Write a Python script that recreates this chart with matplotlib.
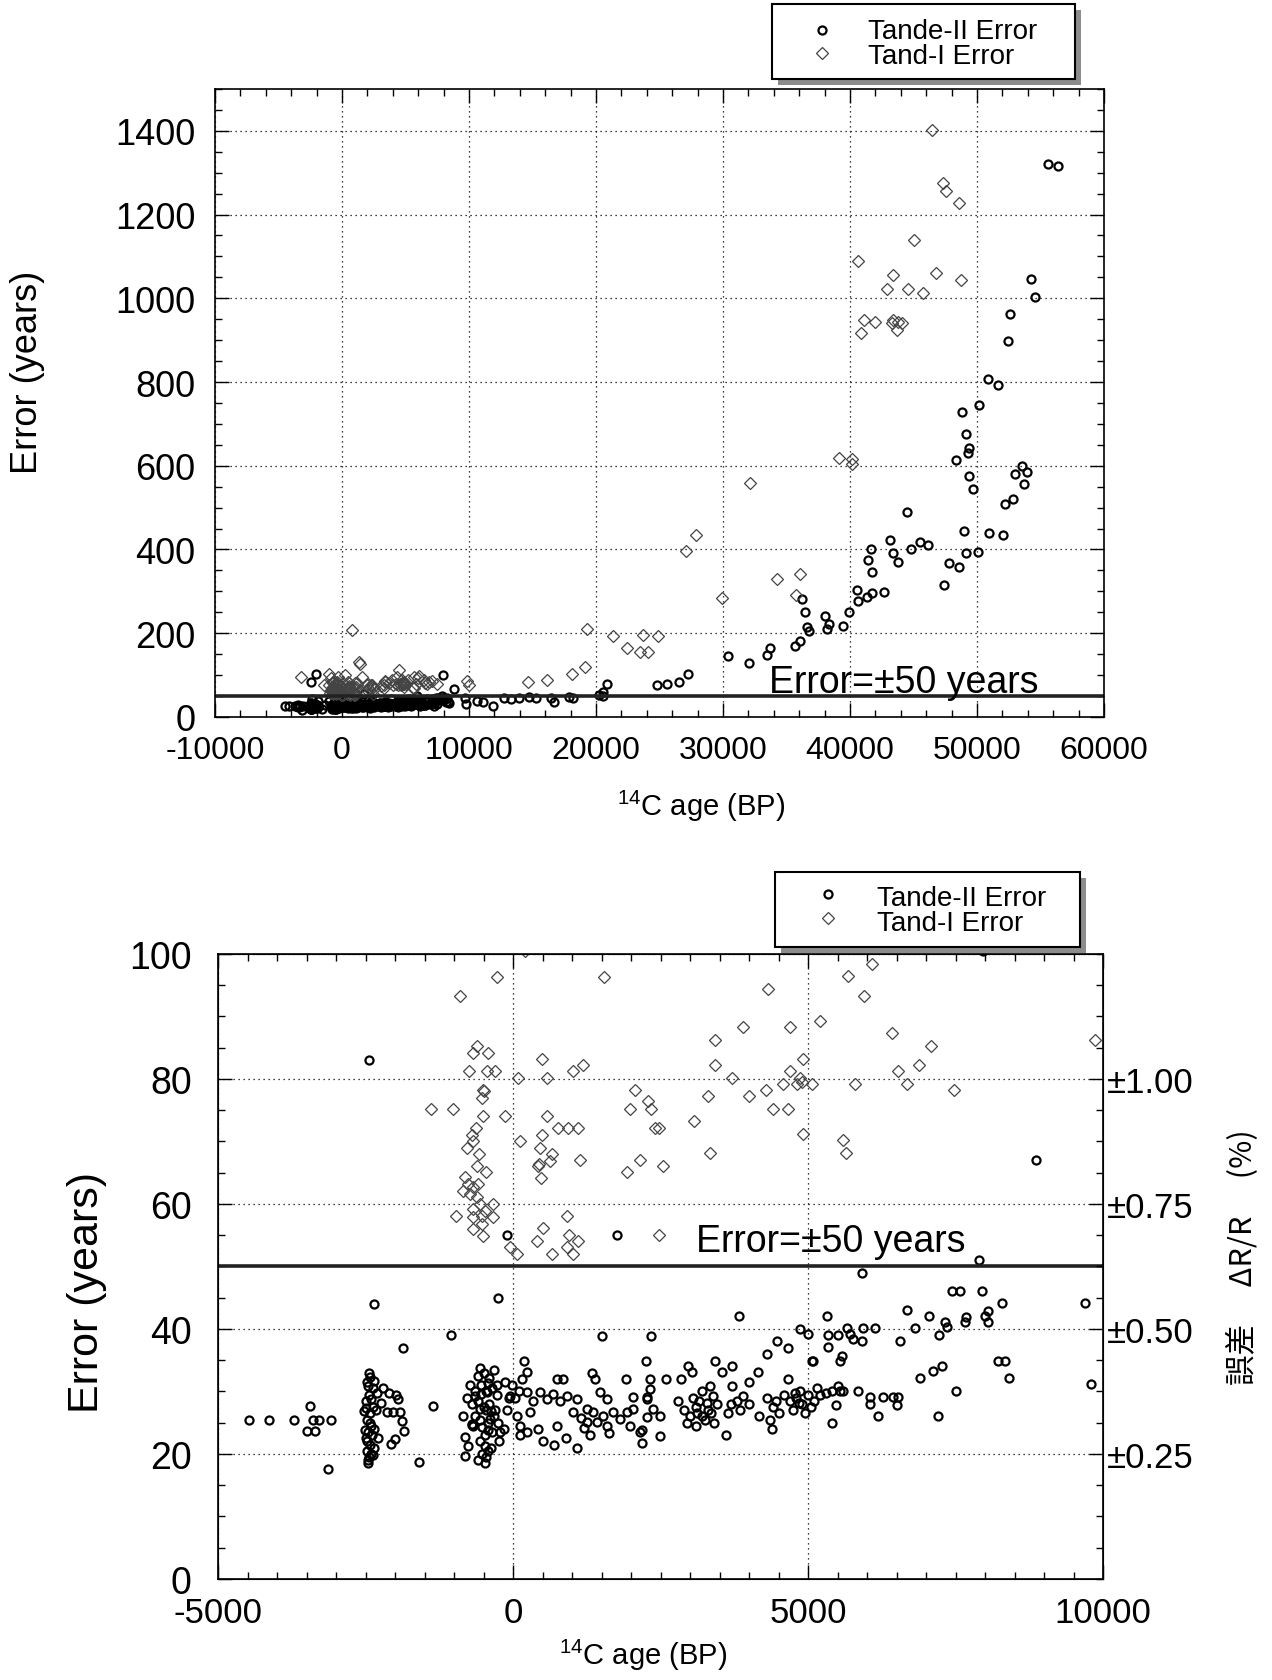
import numpy as np
import matplotlib
matplotlib.use("Agg")
import matplotlib.pyplot as plt
from matplotlib.ticker import MultipleLocator
from matplotlib.patches import Rectangle
from matplotlib.lines import Line2D

plt.rcParams['font.family'] = ['Liberation Sans', 'DejaVu Sans']
plt.rcParams['mathtext.fontset'] = 'custom'
plt.rcParams['mathtext.rm'] = 'Liberation Sans'
plt.rcParams['axes.unicode_minus'] = False

# ---- data: (14C age BP, error in years) ----
# young samples, visible in both panels
young_tande2 = [
    (-4475, 25.5), (-4136, 25.5), (-3712, 25.5), (-3441, 27.6), (-3395, 25.5), (-3282, 25.5),
    (-3090, 25.5), (-3497, 23.6), (-3356, 23.6), (-3130, 17.6), (-1588, 18.7), (-1361, 27.7),
    (-1056, 39), (-2360, 44), (-1870, 37), (-2441, 83), (-260, 45), (-100, 55), (1757, 55),
    (8860, 67), (7970, 100.5),
    # column near -2400
    (-2460, 18.5), (-2440, 19.5), (-2480, 20.5), (-2420, 21.5), (-2500, 22.5), (-2450, 23.5),
    (-2400, 24.5), (-2480, 25.5), (-2430, 26.5), (-2380, 27.5), (-2500, 28.5), (-2440, 29.5),
    (-2380, 30.5), (-2470, 31.5), (-2420, 32.3), (-2350, 24), (-2360, 21), (-2330, 27),
    (-2300, 29.8), (-2520, 26.8), (-2510, 23.8), (-2290, 22.5), (-2380, 19.8),
    (-2450, 19.0), (-2410, 20.0), (-2470, 22.0), (-2390, 23.0), (-2430, 25.0), (-2490, 27.3),
    (-2410, 28.8), (-2460, 30.8), (-2350, 31.7), (-2440, 33.0),
    (-2096, 29.8), (-1944, 28.8), (-2140, 26.7), (-1916, 26.7), (-1887, 25.3), (-1848, 23.7),
    (-2073, 21.6), (-2000, 22.4), (-2200, 30.5), (-2230, 28.2), (-2040, 26.7), (-1980, 29.5),
    # column near -500
    (-814, 22.7), (-814, 19.7), (-689, 24.8), (-700, 24.6), (-600, 19), (-520, 20), (-450, 19.5),
    (-380, 21), (-560, 22), (-470, 23), (-350, 23.5), (-650, 26), (-560, 25.5), (-430, 25),
    (-330, 26), (-700, 28), (-600, 28.5), (-500, 27.5), (-400, 28), (-300, 27), (-650, 30),
    (-550, 31), (-450, 30), (-350, 30.5), (-270, 29.5), (-600, 32.5), (-500, 33), (-400, 32.2),
    (-320, 33.5), (-250, 25), (-240, 22), (-850, 26), (-780, 29), (-730, 31), (-760, 21.2),
    (-644, 29.3), (-446, 29.9), (-277, 31), (-559, 27.2), (-390, 25.6), (-672, 24.5), (-220, 23.5),
    (-480, 21.3), (-420, 23.8), (-520, 24.3), (-380, 26.8), (-460, 27.0), (-540, 29.6),
    (-420, 31.3), (-480, 18.6), (-560, 33.8), (-430, 20.4),
    (-150, 24), (-100, 27), (-60, 29), (-20, 31), (40, 29), (60, 26), (100, 30), (120, 23),
    (-130, 31.5), (-51, 29.3),
    # band 0 - 2500
    (186, 34.8), (232, 33.1), (147, 32), (740, 32), (853, 32), (1333, 32.9), (1390, 32),
    (1915, 32), (2322, 32), (2322, 30.4), (2266, 29.1), (2040, 29.1), (2593, 32), (2847, 32),
    (232, 29.9), (288, 26.7), (119, 24.5), (429, 24), (232, 23.5),
    (458, 29.9), (571, 28.8), (740, 24.5), (910, 29.3), (1079, 28.8), (1022, 26.7), (1249, 27.2),
    (1361, 26.7), (1475, 29.9), (1588, 28.8), (1700, 26.7), (1249, 25.1), (1418, 25.1),
    (1588, 24.5), (1814, 25.6), (1927, 26.7), (2040, 27.2), (2266, 28.8), (2378, 27.2),
    (2492, 26.1), (1983, 24.5), (2153, 23.5),
    (500, 22), (1090, 21), (1630, 23.4), (2180, 21.7), (900, 22.5), (1300, 23), (700, 21.5),
    (1503, 38.9), (2339, 38.9), (2249, 34.8), (2277, 25.9), (2492, 22.9), (2181, 23.9),
    (1150, 25.8), (1200, 24.2), (1520, 26.0), (800, 28.4), (680, 29.6), (330, 28.4),
    # 2800 - 3700
    (3339, 30.9), (3395, 29.3), (2972, 34), (3028, 33.1), (3424, 34.9), (3537, 33.1), (3706, 34),
    (3706, 30.9), (3610, 23), (2900, 27), (3000, 26), (3100, 27.5), (3200, 26), (3300, 27),
    (3150, 28.5), (3050, 29), (3250, 25.5), (3350, 26.5), (3450, 28), (2950, 25), (3100, 24.5),
    (3400, 25), (2800, 28.5), (3200, 30), (3830, 42), (3120, 26.6), (3280, 28.2),
    # 3700 - 4700
    (3800, 28.5), (3900, 29.2), (4000, 28), (3850, 27), (4175, 26.1), (4300, 29), (4400, 27.5),
    (4450, 28.5), (4350, 25.5), (4500, 26.5), (4384, 24), (4158, 33.1), (4300, 36), (4469, 38),
    (4666, 37), (4666, 32), (4000, 31.5), (3650, 26.5), (3700, 28),
    # 4600 - 5400
    (4700, 28.5), (4800, 29), (4900, 28), (4750, 27), (4864, 30), (5000, 29.5), (5100, 28.5),
    (5200, 29.5), (5300, 29.8), (5400, 30), (4950, 26.5), (5050, 27.5), (4600, 29.5), (5150, 30.5),
    (4864, 40), (5006, 39.2), (5079, 34.9), (4850, 28.2), (4780, 29.8),
    # 5300 - 10000
    (5345, 39), (5514, 39), (5712, 39.2), (5768, 38.4), (5921, 38), (6559, 38), (7226, 39),
    (5345, 37.1), (5062, 34.9), (5571, 35.7), (5542, 34.9), (8226, 34.9), (8339, 34.9),
    (8412, 32.2), (7266, 34.1), (7124, 33.2), (6898, 32.1), (9797, 31.2), (7508, 30),
    (5500, 30.9), (5542, 30.1), (5599, 30), (5853, 30), (6051, 29.1), (6051, 28), (6277, 29.1),
    (6446, 29.1), (6531, 29.1), (6503, 27.9), (5475, 27.9), (5412, 25), (6181, 26), (7209, 26),
    (7904, 51), (5921, 49), (7435, 46.1), (7576, 46.1), (7944, 46.1), (8283, 44.1), (9695, 44.1),
    (6672, 43.1), (5316, 42), (7056, 42.1), (8056, 42.9), (7999, 42.1), (8056, 41.1),
    (7678, 41.9), (7655, 41.1), (7322, 41.1), (7350, 40.3), (6814, 40.1), (6136, 40.1),
    (5938, 40.1), (5655, 40.1),
]

young_tand1 = [
    (200, 100.4), (-280, 96.3), (-900, 93.2), (1550, 96.3), (-616, 85.3), (-672, 84.2),
    (-418, 84.2), (-740, 81.2), (-446, 81.2), (-305, 81.2), (90, 80.1), (571, 80.1), (486, 83.2),
    (1022, 81.2), (1192, 82.2), (-503, 78.3), (-490, 78.0), (-531, 77), (-1395, 75.2), (-1020, 75.2),
    (-514, 74.1), (-136, 74.1), (571, 74.1), (768, 72.1), (937, 72.1), (1096, 72.1), (-627, 72.1),
    (-701, 71), (486, 71), (-684, 70.1), (-780, 69), (119, 70.1), (458, 69), (-571, 68), (655, 68),
    (627, 66.9), (1136, 67), (429, 66.1), (440, 66.4), (-616, 66.1), (-458, 65.1), (469, 64.1),
    (1937, 65.1), (1983, 75.2), (2068, 78.3), (2146, 67),
    (-814, 64.3), (-757, 63.2), (-842, 62.1), (-684, 62.7), (-588, 63.2), (-729, 61.6),
    (-616, 61.1), (-559, 60), (-672, 59.2), (-475, 58.9), (-333, 60), (-672, 57.9), (-531, 58.1),
    (-333, 57.9), (-966, 58), (-672, 56), (-531, 56.8), (-503, 54.9),
    (-51, 53.1), (73, 52), (503, 56.1), (412, 54), (910, 58), (955, 55), (1107, 54), (910, 53.1),
    (655, 52), (1023, 52),
    (6090, 98.4), (5672, 96.4), (4328, 94.4), (5955, 93.3), (5203, 89.3), (3904, 88.3),
    (4695, 88.3), (6429, 87.3), (3424, 86.2), (9864, 86.2), (7079, 85.3), (4910, 83.2),
    (3424, 82.3), (6881, 82.3), (4695, 81.2), (6531, 81.2), (3717, 80.2), (4864, 80.2),
    (4582, 79.2), (4808, 79.2), (4893, 79.5), (5062, 79.2), (5797, 79.2), (6672, 79.2),
    (7475, 78.3), (4288, 78.3), (4006, 77.2), (3311, 77.2), (2282, 76.4), (2333, 75.2),
    (4412, 75.2), (4666, 75.2), (3068, 73.2), (2407, 72.1), (2480, 72.1), (4910, 71.2),
    (3339, 68.1), (5599, 70.3), (5644, 68.1), (2537, 66.1), (2480, 55.0),
]

# older samples / large errors, only inside the full-range panel
old_tande2 = [
    (-2050, 103), (10600, 38), (11130, 35), (11920, 27), (12780, 45), (13310, 42), (13960, 45),
    (14750, 48), (15270, 45), (16450, 45), (16710, 35), (17900, 47), (18160, 45), (20260, 52),
    (20520, 50), (20530, 59), (20840, 79), (24780, 77), (25570, 79), (26560, 83), (27270, 103),
    (30420, 145), (32070, 129), (33440, 147), (33700, 164), (35670, 170), (36060, 182),
    (36590, 214), (36800, 205), (36200, 282), (36460, 250), (38030, 242), (38370, 222),
    (38210, 209), (39470, 217), (39950, 250), (40650, 276), (41310, 286), (41710, 297),
    (42700, 299), (40530, 304), (41710, 347), (41440, 374), (41650, 400), (43750, 370),
    (43410, 391), (44780, 400), (43150, 423), (45510, 417), (46170, 411), (44510, 489),
    (47400, 316), (47820, 368), (48610, 359), (49130, 391), (50100, 393), (49000, 445),
    (50970, 439), (52020, 435), (52200, 509), (52810, 521), (53700, 557), (52990, 581),
    (53910, 585), (53520, 599), (49710, 545), (49400, 575), (48350, 614), (49320, 631),
    (49400, 642), (49130, 676), (48790, 728), (50180, 744), (50890, 807), (51630, 792),
    (52470, 899), (52600, 963), (54570, 1003), (54250, 1045), (55570, 1321), (56350, 1316),
]

old_tand1 = [
    (-3250, 96), (761, 208), (1339, 132), (1417, 127), (4514, 113), (-1024, 103), (10020, 77),
    (14670, 84), (16120, 88), (18080, 103), (19130, 119), (19270, 209), (21360, 194),
    (23730, 195), (24900, 194), (22420, 164), (23460, 156), (24120, 156), (27090, 397),
    (27870, 435), (29950, 284), (32130, 558), (34230, 330), (36060, 342), (35750, 291),
    (39160, 619), (40180, 616), (40130, 604), (40650, 1088), (40840, 918), (41100, 949),
    (41970, 943), (42940, 1021), (43360, 1056), (43280, 940), (43800, 943), (44070, 941),
    (43720, 925), (43360, 949), (44590, 1022), (45060, 1138), (45720, 1013), (46480, 1401),
    (46770, 1060), (47350, 1276), (47560, 1256), (48610, 1227), (48740, 1043),
]

series_names = ['Tande-II Error', 'Tand-I Error']
pct_ticks = [20, 40, 60, 80]
pct_labels = ['\u00b10.25', '\u00b10.50', '\u00b10.75', '\u00b11.00']

y2 = np.array(young_tande2)
y1 = np.array(young_tand1)
o2 = np.array(old_tande2)
o1 = np.array(old_tand1)

circ = dict(ls='none', marker='o', ms=5.8, mfc='none', mec='black', mew=1.6)
diam = dict(ls='none', marker='D', ms=6.5, mfc='none', mec='#444444', mew=0.9)


def style_axes(ax, xmaj, xmin, ymaj, ymin, fs_x, fs_y, pad_x, pad_y):
    ax.xaxis.set_major_locator(MultipleLocator(xmaj))
    ax.xaxis.set_minor_locator(MultipleLocator(xmin))
    ax.yaxis.set_major_locator(MultipleLocator(ymaj))
    ax.yaxis.set_minor_locator(MultipleLocator(ymin))
    ax.grid(which='major', color='black', ls=(0, (1, 3)), lw=0.9)
    ax.tick_params(which='both', direction='in', top=True, right=True, width=1)
    ax.tick_params(which='major', length=10)
    ax.tick_params(which='minor', length=5)
    ax.tick_params(axis='x', labelsize=fs_x, pad=pad_x)
    ax.tick_params(axis='y', labelsize=fs_y, pad=pad_y)
    for s in ax.spines.values():
        s.set_linewidth(1.2)


def draw_legend(fig, left, top, width, height, mark_x, text_x, rows):
    # box with a grey drop shadow, positions in pixels from the top-left corner
    W, H = fig.bbox.width, fig.bbox.height
    fx = lambda px: px / W
    fy = lambda py: 1 - py / H
    fig.add_artist(Rectangle((fx(left + 6), fy(top + height + 6)), width / W, height / H,
                             transform=fig.transFigure, facecolor='#8c8c8c',
                             edgecolor='none', zorder=9))
    fig.add_artist(Rectangle((fx(left), fy(top + height)), width / W, height / H,
                             transform=fig.transFigure, facecolor='white',
                             edgecolor='black', lw=1.5, zorder=10))
    for (mk_y, base_y), style, name in zip(rows, [circ, diam], series_names):
        fig.add_artist(Line2D([fx(mark_x)], [fy(mk_y)], transform=fig.transFigure,
                              zorder=11, **style))
        fig.text(fx(text_x), fy(base_y), name, fontsize=20, va='baseline', ha='left',
                 zorder=11)


fig = plt.figure(figsize=(12.72, 16.81), dpi=100)
ax_top = fig.add_axes([0.1690, 0.5729, 0.6989, 0.3736])
ax_bot = fig.add_axes([0.1714, 0.0601, 0.6958, 0.3718])

# ---- full range panel ----
ax = ax_top
ax.plot(y2[:, 0], y2[:, 1], **circ)
ax.plot(o2[:, 0], o2[:, 1], **circ)
ax.plot(y1[:, 0], y1[:, 1], **diam)
ax.plot(o1[:, 0], o1[:, 1], **diam)
ax.axhline(50, color='#222222', lw=2.6)
ax.text(33600, 59, 'Error=\u00b150 years', fontsize=27, va='baseline', ha='left')
ax.set_xlim(-10000, 60000)
ax.set_ylim(0, 1500)
style_axes(ax, 10000, 2000, 200, 50, 23, 26, 13, 14)
ax.set_xlabel(r'$\mathregular{^{14}}$C age (BP)', fontsize=21)
ax.set_ylabel('Error (years)', fontsize=26)
ax.xaxis.set_label_coords(0.547, -0.113)
ax.xaxis.label.set_va('top')
ax.yaxis.set_label_coords(-0.191, 0.55)

# ---- zoomed panel ----
ax = ax_bot
ax.plot(y2[:, 0], y2[:, 1], **circ)
ax.plot(y1[:, 0], y1[:, 1], **diam)
ax.axhline(50, color='#222222', lw=2.6)
ax.text(3100, 52.5, 'Error=\u00b150 years', fontsize=27, va='baseline', ha='left')
ax.set_xlim(-5000, 10000)
ax.set_ylim(0, 100)
style_axes(ax, 5000, 500, 20, 5, 25, 27, 12, 19)
ax.tick_params(which='both', right=False)
ax.set_xlabel(r'$\mathregular{^{14}}$C age (BP)', fontsize=21)
ax.set_ylabel('Error (years)', fontsize=31)
ax.xaxis.set_label_coords(0.48, -0.093)
ax.xaxis.label.set_va('top')
ax.yaxis.set_label_coords(-0.125, 0.46)

ax2 = ax.twinx()
ax2.set_ylim(0, 100)
ax2.set_yticks(pct_ticks, pct_labels)
ax2.yaxis.set_minor_locator(MultipleLocator(5))
ax2.tick_params(which='both', direction='in', width=1, labelsize=25, pad=3)
ax2.tick_params(which='major', length=10)
ax2.tick_params(which='minor', length=5)
ax2.set_ylabel('誤差\u3000 ΔR/R\u3000 (%)', fontsize=22,
               family=['Noto Sans CJK JP', 'DejaVu Sans'])
ax2.yaxis.set_label_coords(1.14, 0.517)

# ---- legends ----
draw_legend(fig, 772, 5, 303, 75, 822, 868, [(31, 39), (54, 64)])
draw_legend(fig, 775, 873, 305, 75, 828, 877, [(895, 906), (919, 931)])

fig.savefig('out.png', dpi=100)
